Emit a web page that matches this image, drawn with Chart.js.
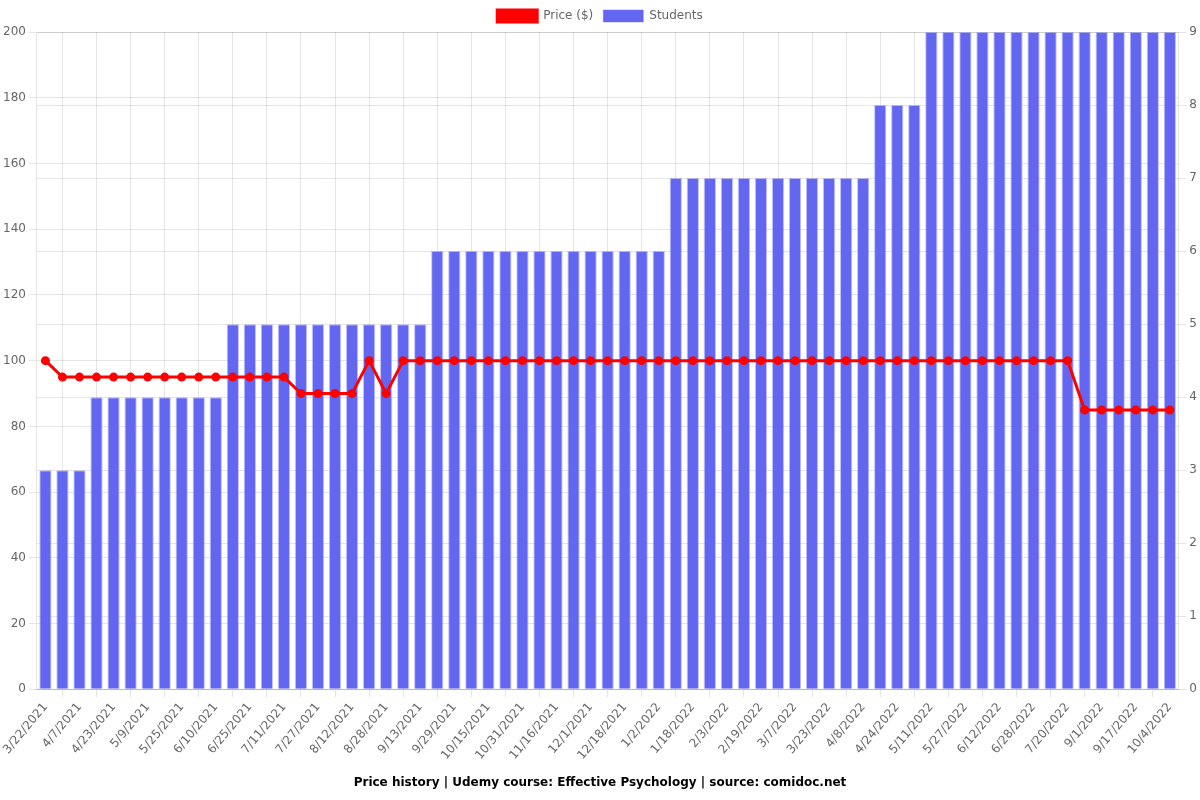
<!DOCTYPE html>
<html>
<head>
<meta charset="utf-8">
<script src="https://cdn.jsdelivr.net/npm/chart.js@4/dist/chart.umd.min.js"></script>
<style>
    html, body { margin: 0; padding: 0; background: #fff; }
    #wrap { width: 1200px; height: 800px; }
</style>
</head>
<body>
<div id="wrap"><canvas id="chart"></canvas></div>
<script>
const dates = [
    '3/22/2021', '3/30/2021', '4/7/2021', '4/15/2021', '4/23/2021', '5/1/2021', '5/9/2021', '5/17/2021',
    '5/25/2021', '6/2/2021', '6/10/2021', '6/17/2021', '6/25/2021', '7/3/2021', '7/11/2021', '7/19/2021',
    '7/27/2021', '8/4/2021', '8/12/2021', '8/20/2021', '8/28/2021', '9/5/2021', '9/13/2021', '9/21/2021',
    '9/29/2021', '10/7/2021', '10/15/2021', '10/23/2021', '10/31/2021', '11/8/2021', '11/16/2021', '11/23/2021',
    '12/1/2021', '12/9/2021', '12/18/2021', '12/25/2021', '1/2/2022', '1/10/2022', '1/18/2022', '1/26/2022',
    '2/3/2022', '2/11/2022', '2/19/2022', '2/27/2022', '3/7/2022', '3/15/2022', '3/23/2022', '3/31/2022',
    '4/8/2022', '4/16/2022', '4/24/2022', '5/3/2022', '5/11/2022', '5/19/2022', '5/27/2022', '6/4/2022',
    '6/12/2022', '6/20/2022', '6/28/2022', '7/6/2022', '7/20/2022', '8/10/2022', '9/1/2022', '9/9/2022',
    '9/17/2022', '9/25/2022', '10/4/2022',
];

const prices = [
    100, 95, 95, 95, 95, 95, 95, 95, 95, 95, 95, 95, 95, 95, 95, 90,
    90, 90, 90, 100, 90, 100, 100, 100, 100, 100, 100, 100, 100, 100, 100, 100,
    100, 100, 100, 100, 100, 100, 100, 100, 100, 100, 100, 100, 100, 100, 100, 100,
    100, 100, 100, 100, 100, 100, 100, 100, 100, 100, 100, 100, 100, 85, 85, 85,
    85, 85, 85,
];

const students = [
    3, 3, 3, 4, 4, 4, 4, 4, 4, 4, 4, 5, 5, 5, 5, 5,
    5, 5, 5, 5, 5, 5, 5, 6, 6, 6, 6, 6, 6, 6, 6, 6,
    6, 6, 6, 6, 6, 7, 7, 7, 7, 7, 7, 7, 7, 7, 7, 7,
    7, 8, 8, 8, 9, 9, 9, 9, 9, 9, 9, 9, 9, 9, 9, 9,
    9, 9, 9,
];

const priceTicks = [0, 20, 40, 60, 80, 100, 120, 140, 160, 180, 200];
const studentTicks = [0, 1, 2, 3, 4, 5, 6, 7, 8, 9];

Chart.defaults.font.family = "'DejaVu Sans', sans-serif";
Chart.defaults.font.size = 12;
Chart.defaults.color = '#666';

const canvas = document.getElementById('chart');

new Chart(canvas.getContext('2d'), {
    type: 'bar',
    data: {
        labels: dates,
        datasets: [
            {
                type: 'line',
                label: 'Price ($)',
                data: prices,
                yAxisID: 'y',
                borderColor: '#ff0000',
                backgroundColor: '#ff0000',
                borderWidth: 3,
                pointRadius: 3,
                pointBackgroundColor: '#ff0000',
                pointBorderColor: '#ff0000',
                tension: 0,
            },
            {
                type: 'bar',
                label: 'Students',
                data: students,
                yAxisID: 'y1',
                backgroundColor: 'rgb(99, 102, 241)',
                borderColor: 'rgba(99, 102, 241, 0.4)',
                borderWidth: 1,
            },
        ],
    },
    options: {
        responsive: true,
        maintainAspectRatio: false,
        animation: false,
        plugins: {
            legend: {
                position: 'top',
                labels: {
                    boxWidth: 40,
                },
            },
            title: {
                display: true,
                position: 'bottom',
                text: 'Price history | Udemy course: Effective Psychology | source: comidoc.net',
                font: {
                    weight: 'bold',
                    size: 12,
                },
                color: '#000',
            },
            tooltip: {
                enabled: false,
            },
        },
        scales: {
            y: {
                position: 'left',
                min: priceTicks[0],
                max: priceTicks[priceTicks.length - 1],
                ticks: {
                    stepSize: 20,
                },
            },
            y1: {
                position: 'right',
                min: studentTicks[0],
                max: studentTicks[studentTicks.length - 1],
                ticks: {
                    stepSize: 1,
                },
            },
        },
    },
});
</script>
</body>
</html>
